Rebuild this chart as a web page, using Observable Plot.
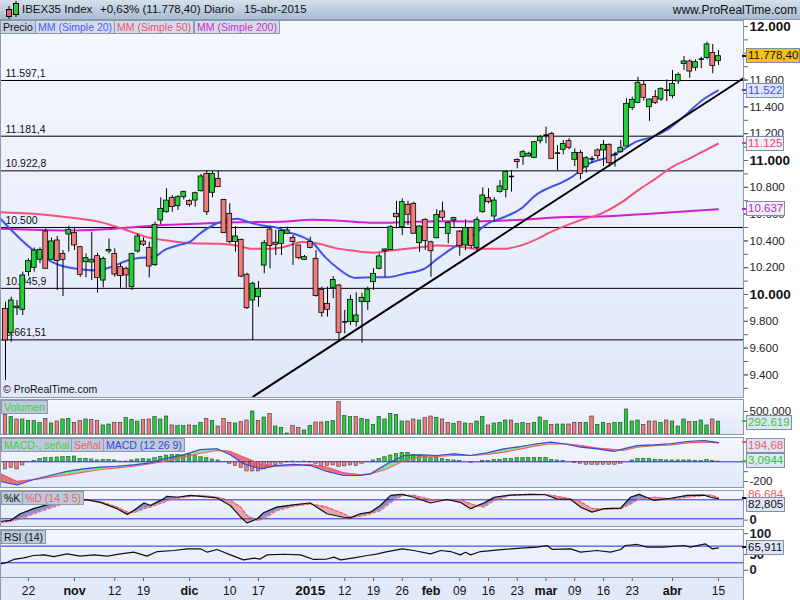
<!DOCTYPE html>
<html>
<head>
<meta charset="utf-8">
<script src="https://cdn.jsdelivr.net/npm/d3@7"></script>
<script src="https://cdn.jsdelivr.net/npm/@observablehq/plot@0.6"></script>
<style>
body{margin:0;background:#fff;font-family:"Liberation Sans",Arial,sans-serif;}
#wrap{position:relative;width:800px;height:600px;overflow:hidden;background:#fff;}
.bg{position:absolute;left:0;width:743px;background:linear-gradient(#f5f7fe,#e1e8f9);}
.plt{position:absolute;left:0;}
.hdr{position:absolute;left:0;top:0;width:800px;height:20px;background:linear-gradient(#d5e0ec,#a8bcd2);border-bottom:1px solid #8a9bb0;box-sizing:border-box;font-size:11.5px;color:#111;}
.hdr span{position:absolute;top:3px;white-space:nowrap;}
.tab{position:absolute;height:14px;line-height:13px;font-size:10.5px;padding:0 2px;border:1px solid #8a9bb0;background:#d3dde9;box-sizing:border-box;white-space:nowrap;}
.vbox{position:absolute;left:746px;font-size:11.5px;line-height:13px;height:15px;padding:0 1px;border:1px solid #7d90a8;box-sizing:border-box;white-space:nowrap;}
.dash{position:absolute;left:742px;width:5px;height:2px;}
.lbl{position:absolute;white-space:nowrap;font-size:10.5px;color:#111;}
</style>
</head>
<body>
<div id="wrap"></div>
<script>
// ---------------- DATA ----------------
const opens = [9893,9711,9898,9886,10167,10199,10259,10470,10259,10403,10303,10448,10458,10353,10241,10239,10286,10104,10321,10303,10204,10192,10055,10321,10396,10346,10219,10552,10614,10721,10659,10726,10697,10701,10771,10900,10759,10863,10706,10602,10391,10408,10147,9955,9980,10216,10485,10386,10378,10453,10423,10366,10259,10391,10266,10035,9930,10050,10067,9794,9794,9794,9943,9943,10092,10192,10323,10333,10602,10502,10669,10677,10383,10557,10390,10420,10619,10453,10552,10470,10366,10497,10348,10614,10719,10582,10764,10781,10880,11005,11025,11030,11020,11144,11184,11199,11050,11080,11144,11005,11057,10950,11017,11075,11075,11117,11050,11062,11104,11391,11430,11565,11398,11473,11455,11522,11480,11590,11721,11739,11692,11754,11766,11803,11741];
const highs = [9943,9980,9955,10167,10266,10348,10348,10490,10423,10433,10328,10510,10502,10358,10303,10465,10308,10279,10415,10341,10229,10204,10308,10453,10423,10391,10540,10721,10789,10739,10739,10771,10706,10764,10896,10925,10920,10920,10706,10677,10507,10413,10159,10092,10097,10403,10502,10478,10483,10502,10440,10366,10291,10428,10328,10055,10055,10134,10075,9881,9993,10012,10010,10055,10192,10303,10341,10515,10696,10714,10696,10689,10515,10565,10398,10632,10689,10540,10577,10478,10557,10502,10577,10796,10789,10721,10851,10920,10925,11012,11075,11062,11142,11187,11249,11211,11112,11149,11162,11087,11075,11030,11030,11087,11149,11124,11062,11149,11460,11473,11622,11597,11460,11522,11542,11602,11672,11654,11776,11751,11751,11771,11883,11866,11821];
const lows = [9358,9644,9843,9843,10134,10167,10229,10192,10254,10030,9985,10316,10328,10129,10124,10104,10010,10050,10303,10129,10047,10047,10030,10308,10358,10124,10209,10522,10607,10614,10627,10706,10652,10652,10764,10590,10721,10801,10458,10378,10316,10124,9888,9657,9905,10154,10192,10291,10291,10448,10216,10259,10254,10341,9980,9831,9831,9968,9644,9706,9769,9756,9637,9881,10030,10184,10129,10328,10490,10440,10515,10453,10316,10328,10129,10415,10552,10378,10502,10286,10328,10341,10316,10607,10677,10540,10756,10721,10764,10938,10963,11025,11015,11124,11124,11012,10925,11042,11080,10955,10856,10905,10980,11005,10955,10950,10950,11055,11104,11373,11423,11443,11293,11418,11440,11440,11460,11567,11672,11614,11667,11684,11751,11647,11709];
const closes = [9657,9955,9910,10142,10249,10328,10333,10192,10396,10249,10259,10483,10366,10147,10271,10259,10124,10266,10333,10149,10137,10142,10303,10433,10371,10209,10520,10639,10701,10652,10726,10764,10669,10756,10881,10614,10900,10801,10458,10391,10433,10134,9898,10080,10042,10383,10361,10371,10473,10478,10391,10271,10279,10348,9988,9863,9886,10109,9714,9796,9960,9843,9975,10037,10154,10284,10336,10502,10577,10689,10595,10453,10507,10398,10323,10594,10572,10535,10570,10361,10497,10361,10557,10739,10689,10701,10806,10913,10881,10988,11062,11050,11137,11174,11189,11012,11055,11124,11095,11057,10900,11017,11012,11032,11117,10980,11045,11095,11423,11453,11580,11468,11455,11428,11535,11525,11572,11639,11739,11664,11734,11757,11866,11705,11778.4];
// volume, thousands of shares
const volumes = [447,394,341,341,311,303,258,356,250,295,341,356,265,303,341,333,303,205,227,265,265,379,333,295,326,341,394,341,409,205,189,189,205,197,265,356,311,182,356,265,250,280,318,523,303,386,462,182,152,23,189,152,91,197,273,273,280,303,735,417,394,394,356,333,220,394,341,470,447,295,295,341,318,371,409,379,341,265,242,280,250,235,295,394,205,250,265,318,318,242,265,242,265,386,303,220,227,227,227,265,265,265,409,220,265,242,265,265,568,295,318,220,295,295,265,318,295,182,341,280,280,318,205,341,292.619];
// MACD histogram (MACD - señal), as drawn
const macdHist = [-78,-64,-78,-37,-3,10,30,37,41,44,47,51,54,30,30,24,14,20,20,14,3,3,14,24,30,24,37,51,64,71,71,64,71,58,47,37,24,14,-3,-20,-44,-64,-98,-98,-98,-78,-54,-37,-20,-5,3,-3,3,-5,-20,-44,-44,-37,-54,-47,-37,-44,-20,-3,14,30,47,64,81,91,91,71,64,47,37,37,30,20,14,7,0,-10,0,10,10,20,20,30,30,37,37,41,41,41,41,20,14,10,0,-14,-20,-30,-30,-30,-30,-30,-30,-20,0,14,30,30,30,20,20,14,14,14,14,14,10,10,20,10,3.0944];
// moving averages: [trading-day index, value]
const sma20 = [[-0.87,10565],[4.9,10328],[9.6,10216],[12.5,10192],[15.7,10179],[18.3,10204],[21.2,10254],[23.5,10274],[25.8,10279],[27.5,10328],[29.9,10366],[32.2,10396],[33.6,10448],[36,10515],[38.3,10552],[40.3,10565],[42.3,10540],[44.6,10515],[46.9,10502],[49.2,10465],[51.5,10433],[53.3,10391],[55.6,10279],[57.9,10192],[60.8,10124],[64.1,10129],[66.4,10129],[69.3,10154],[72.8,10191],[75.1,10266],[78,10353],[80.9,10428],[83.8,10527],[86.7,10577],[89.6,10639],[92.5,10751],[94.8,10801],[96.5,10831],[98.6,10880],[101.4,10975],[104.9,11025],[107.2,11075],[109.5,11137],[112.4,11174],[115.3,11236],[118.2,11336],[121.1,11448],[123.9,11522]];
const sma50 = [[-0.87,10614],[4.9,10602],[10.7,10577],[16.5,10540],[21.2,10478],[24.6,10428],[28.1,10403],[32.2,10383],[37.1,10378],[40,10366],[42.9,10341],[45.8,10341],[48.7,10358],[51.6,10391],[54.5,10378],[57.4,10346],[60.3,10328],[63.8,10312],[67,10328],[72.2,10353],[75.1,10366],[78.6,10358],[82.1,10341],[86.7,10341],[89.6,10366],[92.5,10415],[94.8,10465],[96.5,10497],[100,10555],[103.5,10602],[107.2,10689],[110.1,10781],[113,10863],[115.9,10950],[118.8,11012],[121.7,11075],[123.9,11125]];
const sma200 = [[-0.87,10490],[4.9,10483],[10.7,10478],[16.5,10485],[22.3,10502],[28.1,10520],[32.2,10527],[37.1,10535],[42.9,10540],[48.7,10545],[53.3,10557],[57.4,10552],[61.4,10540],[64.3,10535],[69.3,10540],[75.1,10547],[80.9,10545],[86.7,10552],[92.5,10565],[96.5,10577],[103.5,10582],[113.3,10607],[123.9,10637]];
const trendLine = [[43.1,9239],[128.35,11614]];
const levels = [11597.1,11181.4,10922.8,10500,10045.9,9661.51];
const levelLabels = ["11.597,1","11.181,4","10.922,8","10.500","10.045,9","9.661,51"];
// MACD (12 26 9): [index, MACD, señal]
const macdPts = [[-0.87,-200,-122],[2.0,-234,-200],[4.9,-180,-180],[7.8,-139,-156],[10.7,-98,-132],[13.6,-71,-105],[16.5,-55,-78],[19.4,-45,-61],[22.3,-31,-45],[25.2,-10,-20],[28.1,37,10],[31,71,47],[33.9,125,87],[36.8,132,115],[39.1,71,105],[41.4,-20,47],[44.3,-71,-20],[47.2,-38,-45],[50.1,-27,-38],[53,-38,-27],[55.9,-98,-55],[58.8,-139,-112],[61.7,-139,-132],[63.5,-122,-122],[66.4,-20,-71],[69.3,64,13],[72.2,71,47],[75.1,64,54],[78,81,64],[80.9,64,64],[83.8,91,74],[86.7,132,98],[89.6,155,132],[92.5,183,165],[94.8,199,183],[97.1,183,183],[100,148,165],[102.9,132,138],[105.8,105,125],[107.5,132,115],[109.9,165,148],[112.8,172,165],[115.7,183,172],[118.6,206,192],[121.5,216,199],[124,194.68,191.6]];
// Stochastic %K / %D (14 3 5): [index, K, D]
const stochPts = [[-0.87,11.5,9],[0.87,15,11.5],[2.6,36,20],[4.9,52,36],[7.8,67,54],[10.7,83,72],[14.2,80,81],[16.5,72,74],[19.4,52,57],[21.2,34,41],[22.3,46,39],[24.1,70,52],[25.2,62,57],[27.5,83,72],[28.1,91,78],[29.9,88,85],[32.2,94,91],[33.9,91,94],[36.8,86,88],[39.1,62,78],[40.9,25,57],[42,7,30],[43.8,20,15],[44.9,39,20],[47.2,57,46],[50.1,64,60],[53,70,67],[55.9,36,57],[58.8,25,36],[60,23,25],[61.7,36,28],[63.5,41,36],[65.2,62,46],[67,94,72],[69,97,94],[71,88,94],[73.9,70,81],[76.8,81,78],[79.1,72,81],[80.9,52,67],[83.2,70,57],[85,88,78],[87.8,95,94],[91.3,97,97],[93.9,96,97],[95.9,83,91],[98.3,81,83],[100,57,74],[102,41,52],[104.1,52,50],[107,54,52],[108.7,88,67],[110.2,97,83],[112.8,78,88],[115.7,85,83],[118.6,94,88],[121.5,95,94],[122.6,88,95],[124,82.805,86.684]];
// RSI (14): [index, value]
const rsiPts = [[-0.87,27.5],[0.29,31],[1.45,38],[3.2,42],[4.9,47.5],[6.7,49],[8.4,45],[10.7,51.5],[13,46],[15.4,49],[17.7,46],[20,51.5],[22.3,55.5],[24.6,46],[26.4,57],[29.3,59.5],[31.6,63.5],[33.9,63.5],[35.1,55.5],[36.8,62],[39.1,49],[41.4,37],[43.2,41],[44.3,39],[45.5,49],[48.4,50.5],[51.3,49],[53.6,38],[55.9,39],[57.1,43.5],[58.3,37],[60.6,42],[62.9,47.5],[64.5,51],[66.4,57],[69,63.5],[71,59.5],[73.9,51.5],[75.7,59.5],[77.4,57],[79.1,49],[80,55.5],[80.9,49],[82.6,57],[86.7,62],[89.6,65],[92.5,67.5],[94.2,71.5],[95.1,62],[98.3,63.5],[100,55.5],[102.9,59.5],[105.2,55.5],[107,62],[107.8,71.5],[109.9,74],[111.6,67.5],[114.5,67.5],[118,71.5],[119.1,67.5],[121.7,75.5],[122.9,63.5],[124,65.911]];
// axes
const priceTicks = [9400,9600,9800,10200,10400,10600,10800,11200,11400,11600];
const priceBoldTicks = [10000,11000,12000];
const xTickIdx = [4,12,19,24,32,39,44,53,59,64,69,74,79,84,89,94,99,104,109,116,124];
const xTickLabels = ["22","nov","12","19","dic","10","17","2015","12","19","26","feb","09","16","23","mar","09","16","23","abr","15"];
const boldXLabels = ["nov","dic","2015","feb","mar","abr"];

// ---------------- LAYOUT ----------------
const wrap = document.getElementById("wrap");
const FR = 743, STEP = 5.75, X0 = 5;
const xDomain = [-X0/STEP, (FR - X0)/STEP];
const GREEN = "#22d03a", RED = "#f27b7b", FRAME = "#8a9bb0";
const loc = d3.formatLocale({decimal:",", thousands:".", grouping:[3], currency:["",""]});
const fmtInt = loc.format(",");
const font = "Liberation Sans, Arial, sans-serif";

function addEl(cls, css, html){
  const d = document.createElement("div");
  d.className = cls; Object.assign(d.style, css); if (html!==undefined) d.innerHTML = html;
  wrap.appendChild(d); return d;
}
function panel(top, height, yDomain, marks){
  addEl("bg", {top: top+"px", height: height+"px"});
  const p = Plot.plot({
    width: 800, height, marginLeft: 0, marginRight: 800-FR, marginTop: 0, marginBottom: 0,
    x: {domain: xDomain, axis: null},
    y: {domain: yDomain, axis: null, label: null},
    style: {background: "transparent", fontFamily: font, fontSize: "11px", overflow: "visible"},
    marks: [...marks, Plot.frame({stroke: FRAME})]
  });
  p.classList.add("plt"); p.style.top = top + "px"; p.style.position = "absolute";
  wrap.appendChild(p);
  return p;
}
function box(top, p, v, text, color, bg, shift=0, clampTop=null){
  let y = top + p.scale("y").apply(v) - 7.5 + shift;
  if (clampTop !== null) y = Math.max(y, clampTop);
  addEl("dash", {top: (top + p.scale("y").apply(v) - 1) + "px", background: color});
  addEl("vbox", {top: y + "px", color, background: bg}, text);
}
function bands(pts){
  const pos = [], neg = []; let id = 0;
  for (let j = 0; j < pts.length - 1; j++){
    const [x0,a0,b0] = pts[j], [x1,a1,b1] = pts[j+1];
    const d0 = a0 - b0, d1 = a1 - b1;
    if (d0 * d1 < 0){
      const t = d0/(d0-d1), xm = x0 + t*(x1-x0), ym = b0 + t*(b1-b0);
      (d0>0?pos:neg).push({x:x0,y1:b0,y2:a0,id},{x:xm,y1:ym,y2:ym,id}); id++;
      (d1>0?pos:neg).push({x:xm,y1:ym,y2:ym,id},{x:x1,y1:b1,y2:a1,id}); id++;
    } else {
      ((d0+d1)>=0?pos:neg).push({x:x0,y1:b0,y2:a0,id},{x:x1,y1:b1,y2:a1,id}); id++;
    }
  }
  return {pos, neg};
}
const rightAxis = {anchor: "right", label: null, tickSize: 4, tickPadding: 2, stroke: "#556677", fill: "#221a2a"};

// ---------------- HEADER ----------------
addEl("hdr", {}, `
<svg width="20" height="20" style="position:absolute;left:2px;top:0">
 <line x1="7" y1="6" x2="7" y2="19" stroke="#000"/><rect x="4.5" y="9.5" width="5" height="7" fill="#f06060" stroke="#000"/>
 <line x1="14" y1="1" x2="14" y2="17" stroke="#000"/><rect x="11.5" y="3.5" width="5" height="11" fill="#22d03a" stroke="#000"/>
</svg>
<span style="left:22px">IBEX35 Index</span>
<span style="left:100px">+0,63% (11.778,40)</span>
<span style="left:204px">Diario</span>
<span style="left:244px">15-abr-2015</span>
<span style="right:3px;font-size:12px">www.ProRealTime.com</span>`);

// ---------------- MAIN PRICE PANEL ----------------
const candles = opens.map((o,i)=>({i, o, h: highs[i], l: lows[i], c: closes[i]}));
const bodies = candles.filter(d => Math.abs(d.c - d.o) >= 8);
const dojis = candles.filter(d => Math.abs(d.c - d.o) < 8);
const MT = 20, MH = 377;
const mainP = panel(MT, MH, [9231.3, 12044.8], [
  Plot.ruleY(levels, {stroke: "#000", strokeWidth: 1}),
  Plot.text(levels, {x: () => 0, y: d => d, text: (d,i) => levelLabels[i], textAnchor: "start", dy: -7, fontSize: 10.5, fill: "#111"}),
  Plot.line(sma200, {x: d=>d[0], y: d=>d[1], stroke: "#d21ecb", strokeWidth: 2, curve: "monotone-x"}),
  Plot.line(sma50, {x: d=>d[0], y: d=>d[1], stroke: "#f5507a", strokeWidth: 2, curve: "monotone-x"}),
  Plot.line(sma20, {x: d=>d[0], y: d=>d[1], stroke: "#4352ee", strokeWidth: 2, curve: "monotone-x"}),
  Plot.line(trendLine, {x: d=>d[0], y: d=>d[1], stroke: "#000", strokeWidth: 2}),
  Plot.ruleX(candles, {x: "i", y1: "l", y2: "h", stroke: "#000", strokeWidth: 1}),
  Plot.rect(bodies, {x1: d=>d.i-0.42, x2: d=>d.i+0.42, y1: d=>Math.min(d.o,d.c), y2: d=>Math.max(d.o,d.c), fill: d=> d.c>d.o ? GREEN : RED, stroke: "#000", strokeWidth: 0.8}),
  Plot.link(dojis, {x1: d=>d.i-0.45, x2: d=>d.i+0.45, y1: "c", y2: "c", stroke: "#000", strokeWidth: 1.6}),
  Plot.axisY({...rightAxis, ticks: d3.range(9300, 12001, 100), tickFormat: () => ""}),
  Plot.axisY({...rightAxis, ticks: priceTicks, tickFormat: fmtInt, fontSize: 11.5}),
  Plot.axisY({...rightAxis, ticks: priceBoldTicks, tickFormat: fmtInt, fontSize: 13.5, fontWeight: "bold", fill: "#111"})
]);
box(MT, mainP, 11778.4, "11.778,40", "#111", "#f5c40a");
box(MT, mainP, 11522, "11.522", "#3c4ef0", "#dfe5f8");
box(MT, mainP, 11125, "11.125", "#f0426a", "#eef0f8");
box(MT, mainP, 10637, "10.637", "#c81ec8", "#eef0f8");
// legend tabs
addEl("tab", {left:"0px", top:"20px", background:"#c4d1e1", color:"#111"}, "Precio");
addEl("tab", {left:"35px", top:"20px", color:"#4b5cf5"}, "MM (Simple 20)");
addEl("tab", {left:"114px", top:"20px", color:"#ef4f75"}, "MM (Simple 50)");
addEl("tab", {left:"194px", top:"20px", color:"#cc2ad0"}, "MM (Simple 200)");
addEl("lbl", {left:"3px", top:"383px"}, "© ProRealTime.com");

// ---------------- VOLUME ----------------
const volData = volumes.map((v,i)=>({i, v: v*1000, up: i===0 ? false : closes[i] >= closes[i-1]}));
const VT = 399, VH = 35;
const volP = panel(VT, VH, [0, 795000], [
  Plot.rect(volData, {x1: d=>d.i-0.3, x2: d=>d.i+0.3, y1: 0, y2: "v", fill: d=> d.up ? GREEN : RED, stroke: "#333", strokeWidth: 0.6}),
  Plot.axisY({...rightAxis, ticks: [500000], tickFormat: fmtInt, fontSize: 11.5, dy: -1})
]);
box(VT, volP, volumes[volumes.length-1]*1000, "292.619", "#36c336", "#dde6f5", 1);
addEl("tab", {left:"1px", top:"400px", color:"#3fcf3f", background:"#bccadb"}, "Volumen");

// ---------------- MACD ----------------
const macdBands = bands(macdPts);
const histData = macdHist.map((v,i)=>({i, v}));
const CT = 437, CH = 50;
const macdP = panel(CT, CH, [-260.9, 246.7], [
  Plot.areaY(macdBands.pos, {x:"x", y1:"y1", y2:"y2", z:"id", fill:"#86e68c"}),
  Plot.areaY(macdBands.neg, {x:"x", y1:"y1", y2:"y2", z:"id", fill:"#e8737b"}),
  Plot.ruleY([0], {stroke: "#2a2ad8", strokeWidth: 1}),
  Plot.rect(histData, {x1: d=>d.i-0.3, x2: d=>d.i+0.3, y1: 0, y2: "v", fill: d=> d.v>=0 ? GREEN : RED, stroke: "#333", strokeWidth: 0.5}),
  Plot.line(macdPts, {x: d=>d[0], y: d=>d[2], stroke: "#ee5a66", strokeWidth: 1.2}),
  Plot.line(macdPts, {x: d=>d[0], y: d=>d[1], stroke: "#3845e0", strokeWidth: 1.2}),
  Plot.axisY({...rightAxis, ticks: [200, 0, -100, -200], tickFormat: d => d === -200 ? "-200" : "", fontSize: 11.5})
]);
box(CT, macdP, 194.68, "194,68", "#ef5d6a", "#dfe5f5", 0, CT + 1);
box(CT, macdP, 3.0944, "3,0944", "#36c336", "#dde6f5");
addEl("tab", {left:"1px", top:"438px", color:"#44cf44", background:"#bccadb"}, "MACD-, señal");
addEl("tab", {left:"71px", top:"438px", color:"#ee5a66", background:"#bccadb"}, "Señal");
addEl("tab", {left:"103px", top:"438px", color:"#3845e0", background:"#bccadb"}, "MACD (12 26 9)");

// ---------------- STOCHASTIC ----------------
const stBands = bands(stochPts);
const ST = 490, SH = 36;
const stP = panel(ST, SH, [-4.3, 109.4], [
  Plot.areaY(stBands.pos, {x:"x", y1:"y1", y2:"y2", z:"id", fill:"#7080cc", fillOpacity: 0.85}),
  Plot.areaY(stBands.neg, {x:"x", y1:"y1", y2:"y2", z:"id", fill:"#e9a3aa"}),
  Plot.ruleY([80, 20], {stroke: "#2a2ad8", strokeWidth: 1}),
  Plot.line(stochPts, {x: d=>d[0], y: d=>d[2], stroke: "#ee6060", strokeWidth: 1.3, strokeDasharray: "3,2"}),
  Plot.line(stochPts, {x: d=>d[0], y: d=>d[1], stroke: "#111", strokeWidth: 1.2}),
  Plot.axisY({...rightAxis, ticks: [0], tickFormat: d => String(d), fontSize: 13, fontWeight: "bold", dy: -5})
]);
addEl("lbl", {left:"748px", top:(ST + stP.scale("y").apply(86.684) - 9)+"px", color:"#ee5a66", fontSize:"11.5px"}, "86,684");
box(ST, stP, 82.805, "82,805", "#111", "#dfe5f5", 6);
addEl("tab", {left:"1px", top:"491px", color:"#111", background:"#bccadb"}, "%K");
addEl("tab", {left:"22px", top:"491px", color:"#ee5a66", background:"#bccadb"}, "%D (14 3 5)");

// ---------------- RSI ----------------
const RT = 529, RH = 48;
const rsiP = panel(RT, RH, [-5.3, 109.9], [
  Plot.ruleY([70, 30], {stroke: "#2a2ad8", strokeWidth: 1}),
  Plot.line(rsiPts, {x: d=>d[0], y: d=>d[1], stroke: "#111", strokeWidth: 1.2}),
  Plot.axisY({...rightAxis, ticks: [100, 50], tickFormat: d => String(d), fontSize: 13, fontWeight: "bold"}),
  Plot.axisY({...rightAxis, ticks: [0], tickFormat: d => String(d), fontSize: 13, fontWeight: "bold", dy: -5})
]);
box(RT, rsiP, 65.911, "65,911", "#111", "#dfe5f5");
addEl("tab", {left:"1px", top:"530px", color:"#111", background:"#bccadb"}, "RSI (14)");

// ---------------- X AXIS ----------------
const xt = xTickIdx.map((i,k)=>({i, label: xTickLabels[k], bold: boldXLabels.includes(xTickLabels[k])}));
const XT = 577, XH = 23;
addEl("bg", {top: XT+"px", height: XH+"px", background: "#e1e8f8"});
const xP = Plot.plot({
  width: 800, height: XH, marginLeft: 0, marginRight: 800-FR, marginTop: 0, marginBottom: 0,
  x: {domain: xDomain, axis: null},
  style: {background: "transparent", fontFamily: font, fontSize: "12px", overflow: "visible"},
  marks: [
    Plot.ruleX(xt, {x: "i", insetBottom: 19, stroke: "#556677"}),
    Plot.text(xt.filter(d=>!d.bold), {x: "i", text: "label", dy: 2, fill: "#111", fontSize: 12}),
    Plot.text(xt.filter(d=>d.bold), {x: "i", text: "label", dy: 2, fill: "#111", fontSize: d => d.label === "2015" ? 13.5 : 12.5, fontWeight: "bold"}),
    Plot.frame({stroke: FRAME})
  ]
});
xP.style.position = "absolute"; xP.style.top = XT + "px"; xP.style.left = "0px";
wrap.appendChild(xP);
</script>
</body>
</html>
